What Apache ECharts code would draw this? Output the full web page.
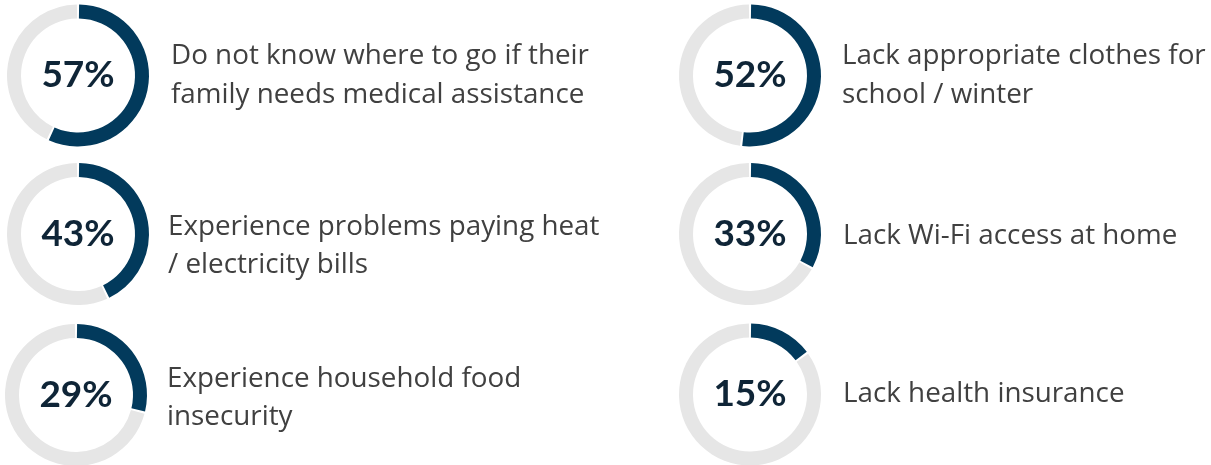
<!DOCTYPE html>
<html>
<head>
<meta charset="utf-8">
<script src="https://cdn.jsdelivr.net/npm/echarts@6/dist/echarts.min.js"></script>
<style>
  html, body { margin: 0; padding: 0; background: #ffffff; }
  #chart { width: 1211px; height: 465px; }
</style>
</head>
<body>
<div id="chart"></div>
<script>
// Survey shares, one ring per finding
const values = [57, 52, 43, 33, 29, 15];
const labels = [
  'Do not know where to go if their\nfamily needs medical assistance',
  'Lack appropriate clothes for\nschool / winter',
  'Experience problems paying heat\n/ electricity bills',
  'Lack Wi-Fi access at home',
  'Experience household food\ninsecurity',
  'Lack health insurance'
];

// Layout: ring centres and where each caption's first line sits
const ringCenters = [[78, 75.5], [750, 75.5], [78, 234], [750, 234], [76, 395], [750, 394.5]];
const captionPos = [[171, 56.5], [842, 56.5], [168, 227], [843, 236.5], [167, 379], [843, 394]];

const DARK = '#023a5c';
const TRACK = '#e6e6e6';
const LINE_H = 38.5;

const chart = echarts.init(document.getElementById('chart'), null, { renderer: 'canvas' });

const series = values.map((v, i) => ({
  type: 'pie',
  center: ringCenters[i],
  radius: [57, 71],
  startAngle: 90,
  clockwise: true,
  padAngle: 1.8,
  silent: true,
  animation: false,
  labelLine: { show: false },
  emphasis: { disabled: true },
  data: [
    {
      value: v,
      itemStyle: { color: DARK },
      label: {
        show: true,
        position: 'center',
        formatter: '{c}%',
        fontFamily: 'Lato',
        fontWeight: 'bold',
        fontSize: 37,
        color: '#0f2537'
      }
    },
    {
      value: 100 - v,
      itemStyle: { color: TRACK },
      label: { show: false }
    }
  ]
}));

const captions = labels.map((t, i) => ({
  type: 'text',
  x: captionPos[i][0],
  y: captionPos[i][1] - LINE_H / 2,
  silent: true,
  style: {
    text: t,
    font: '27.8px "Open Sans"',
    fill: '#404040',
    lineHeight: LINE_H,
    verticalAlign: 'top',
    align: 'left'
  }
}));

chart.setOption({
  backgroundColor: '#ffffff',
  animation: false,
  series: series,
  graphic: { elements: captions }
});
</script>
</body>
</html>
